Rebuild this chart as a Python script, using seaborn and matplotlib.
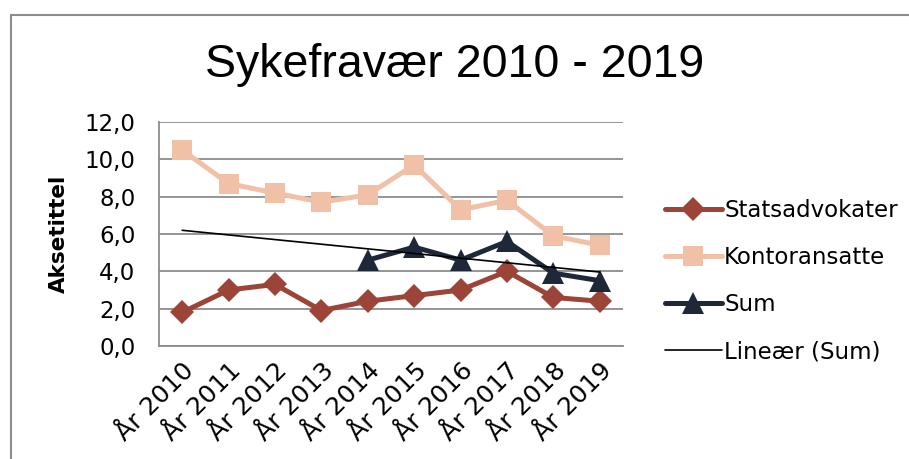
import numpy as np
import pandas as pd
import matplotlib
matplotlib.use("Agg")
import matplotlib.pyplot as plt
import seaborn as sns
from matplotlib.lines import Line2D

# Data
years = ["År 2010", "År 2011", "År 2012", "År 2013", "År 2014",
         "År 2015", "År 2016", "År 2017", "År 2018", "År 2019"]
statsadvokater = [1.8, 3.0, 3.3, 1.9, 2.4, 2.7, 3.0, 4.0, 2.6, 2.4]
kontoransatte = [10.5, 8.7, 8.2, 7.7, 8.1, 9.7, 7.3, 7.8, 5.9, 5.4]
sum_values = [np.nan, np.nan, np.nan, np.nan, 4.6, 5.3, 4.6, 5.6, 3.9, 3.5]
y_ticks = [0, 2, 4, 6, 8, 10, 12]

sns.set_theme(style="white")
plt.rcParams['font.family'] = ['DejaVu Sans']
plt.rcParams['text.color'] = 'black'
plt.rcParams['axes.labelcolor'] = 'black'
plt.rcParams['xtick.color'] = 'black'
plt.rcParams['ytick.color'] = 'black'

pos = np.arange(len(years))
df = pd.DataFrame({"pos": pos, "Statsadvokater": statsadvokater,
                   "Kontoransatte": kontoransatte, "Sum": sum_values})

fig = plt.figure(figsize=(9.09, 4.59), dpi=100)
ax = fig.add_axes([159 / 909, 1 - 346 / 459, (623 - 159) / 909, (346 - 122) / 459])

lw = 3.6
sns.lineplot(data=df, x="pos", y="Statsadvokater", ax=ax, color="#9b4437",
             linewidth=lw, marker="D", markersize=12.5, markeredgewidth=0,
             label="Statsadvokater")
sns.lineplot(data=df, x="pos", y="Kontoransatte", ax=ax, color="#f1c1a7",
             linewidth=lw, marker="s", markersize=14, markeredgewidth=0,
             label="Kontoransatte")
sns.lineplot(data=df.dropna(), x="pos", y="Sum", ax=ax, color="#1e2838",
             linewidth=lw, marker="^", markersize=16, markeredgewidth=0,
             label="Sum")

# lineær trendlinje for Sum
mask = ~np.isnan(df["Sum"])
k, m = np.polyfit(pos[mask], df["Sum"][mask], 1)
ax.plot(pos, k * pos + m, color="black", linewidth=1.2, label="Lineær (Sum)")

ax.set_xlim(-0.5, len(years) - 0.5)
ax.set_ylim(0, 12)
ax.set_yticks(y_ticks)
ax.set_yticklabels([f"{v:.1f}".replace(".", ",") for v in y_ticks], fontsize=16.5)
ax.set_xticks(pos)
ax.set_xticklabels(years, rotation=45, ha="right", rotation_mode="anchor", fontsize=18)
ax.tick_params(axis="y", length=0, pad=17)
ax.tick_params(axis="x", length=0, pad=9)
ax.yaxis.grid(True, color="#8c8c8c", linewidth=1.3)
ax.set_axisbelow(True)
for s in ["top", "right"]:
    ax.spines[s].set_visible(False)
for s in ["left", "bottom"]:
    ax.spines[s].set_color("#8c8c8c")
    ax.spines[s].set_linewidth(1.3)
ax.set_xlabel("")
ax.set_ylabel("Aksetittel", fontsize=15.5, fontweight="bold", labelpad=11)

ax.legend(loc="center left", bbox_to_anchor=(1.045, 0.29), frameon=False,
          fontsize=16.5, handlelength=2.5, handletextpad=0.1, labelspacing=1.05)

fig.text(0.5, 1 - 65 / 459, "Sykefravær 2010 - 2019", ha="center", va="center",
         fontsize=33.5, family=["Liberation Sans", "DejaVu Sans"])

# ramme rundt diagrammet
fig.add_artist(Line2D([11 / 909, 11 / 909], [0, 1 - 15 / 459], color="#8c8c8c", linewidth=1.5))
fig.add_artist(Line2D([11 / 909, 1], [1 - 15 / 459, 1 - 15 / 459], color="#8c8c8c", linewidth=1.5))

fig.savefig("out.png", dpi=100)
